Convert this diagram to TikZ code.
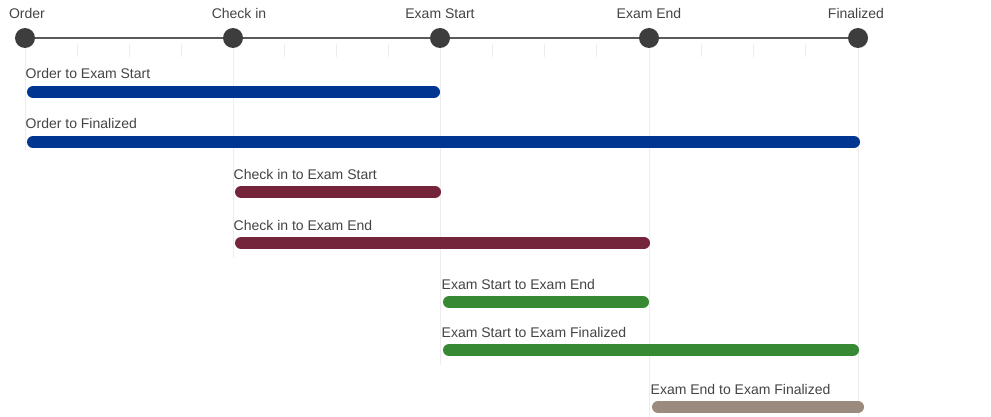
\documentclass[tikz,border=0pt]{standalone}
\usepackage{fontspec}
\setmainfont{Liberation Sans}
\usetikzlibrary{backgrounds,positioning}
\definecolor{Ink}{HTML}{444444}
\definecolor{Knob}{HTML}{3D3D3D}
\definecolor{Axis}{HTML}{5A5A5A}
\definecolor{Guide}{HTML}{EDEDED}
\definecolor{Navy}{HTML}{003591}
\definecolor{Wine}{HTML}{74243B}
\definecolor{Leaf}{HTML}{388934}
\definecolor{Taupe}{HTML}{9A8B7E}

\begin{document}
\begin{tikzpicture}[
  x=1pt,y=-1pt,
  knob/.style={circle,fill=Knob,minimum size=20pt,inner sep=0pt},
  stage/.style={font=\fontsize{14}{16}\selectfont,text=Ink,inner sep=0pt},
  span/.style={stage,anchor=base west},
  bar/.style={line width=12pt,line cap=round},
  axis/.style={draw=Axis,line width=1.4pt},
  tickmark/.style={draw=Guide,line width=1pt},
  guide/.style={draw=Guide,line width=0.8pt}
]
  \useasboundingbox (0,0) rectangle (991,417);
  \node[knob] (order) at (25,38) {};
  \node[knob] (checkin) at (233,38) {};
  \node[knob] (start) at (440,38) {};
  \node[knob] (end) at (649,38) {};
  \node[knob] (final) at (858,38) {};
  \node[stage,above=9pt of order,xshift=2pt] (orderlbl) {Order};
  \node[stage,above=9pt of checkin,xshift=6pt] (checkinlbl) {Check in};
  \node[stage,above=9pt of start] (startlbl) {Exam Start};
  \node[stage,above=9pt of end] (endlbl) {Exam End};
  \node[stage,above=9pt of final,xshift=-2pt] (finallbl) {Finalized};
  \begin{scope}[on background layer]
    \fill[white] (0,0) rectangle (991,417);
    \draw[axis] (order.center) -- (checkin.center) -- (start.center) -- (end.center) -- (final.center);
    \foreach \a/\b in {25/233,233/440,440/649,649/858}
      \foreach \k in {1,2,3}
        \draw[tickmark] ({\a+\k*(\b-\a)/4},44) -- ++(0,13);
    \draw[guide] (order.center) -- ++(0,112);
    \draw[guide] (checkin.center) -- ++(0,220);
    \draw[guide] (start.center) -- ++(0,327);
    \draw[guide] (end.center) -- ++(0,379);
    \draw[guide] (final.center) -- ++(0,379);
  \end{scope}
  \foreach \a/\b/\y/\c/\t in {
    27/440/92/Navy/Order to Exam Start,
    27/860/142/Navy/Order to Finalized,
    235/441/192/Wine/Check in to Exam Start,
    235/650/243/Wine/Check in to Exam End,
    443/649/302/Leaf/Exam Start to Exam End,
    443/859/350/Leaf/Exam Start to Exam Finalized,
    652/864/407/Taupe/Exam End to Exam Finalized}{
    \node[span] (lbl\y) at (\a-1.5,\y-13) {\t};
    \draw[bar,draw=\c] (\a+6,\y) -- (\b-6,\y);
  }
\end{tikzpicture}
\end{document}
